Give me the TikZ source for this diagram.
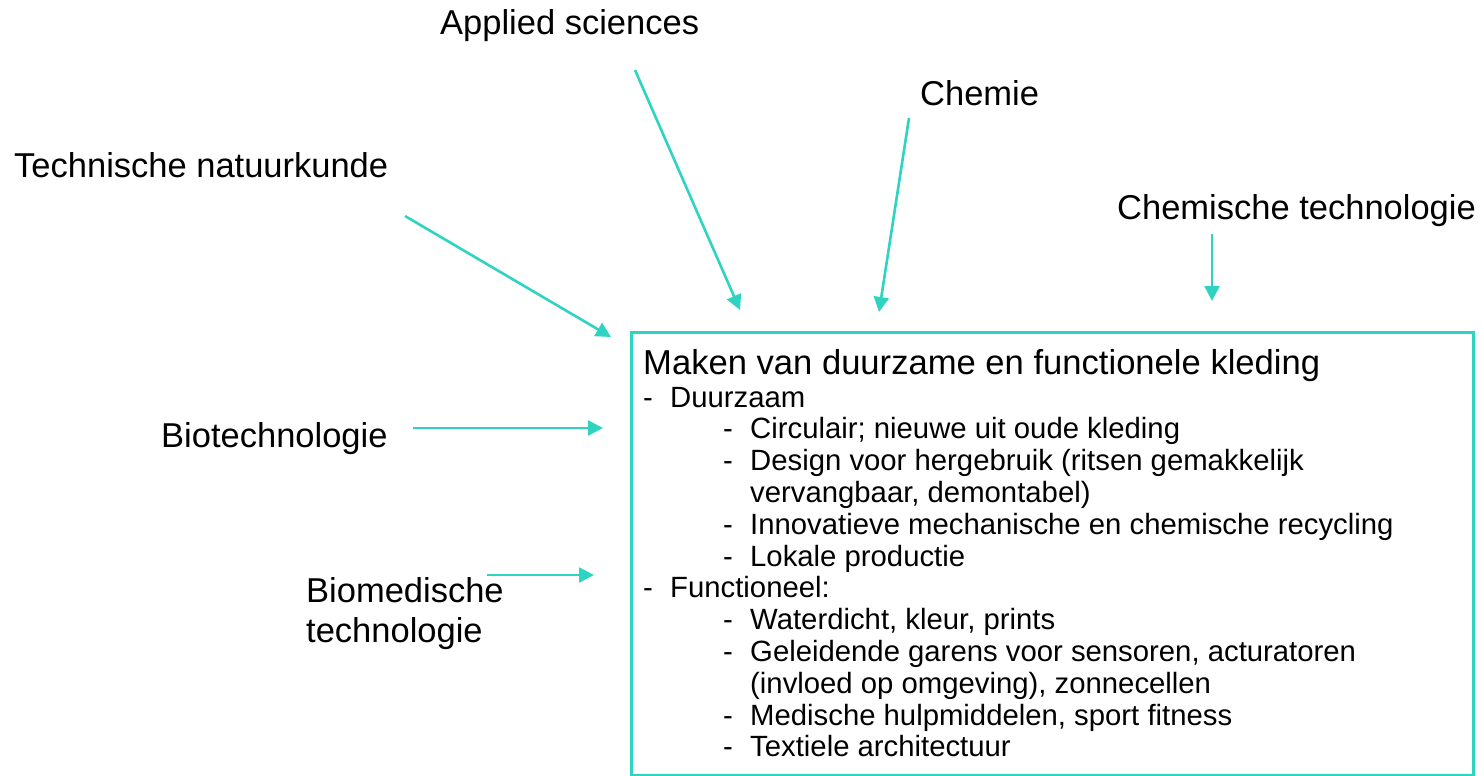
\documentclass[tikz,border=0pt]{standalone}
\usepackage{fontspec}
\setmainfont{Liberation Sans}
\usetikzlibrary{arrows.meta}
\definecolor{turq}{RGB}{46,212,193}
\begin{document}
\begin{tikzpicture}[x=1pt,y=-1pt,
  lbl/.style={anchor=base west,inner sep=0pt,font=\fontsize{34.5}{40}\selectfont,text=black},
  ttl/.style={anchor=base west,inner sep=0pt,font=\fontsize{34.6}{40}\selectfont,text=black},
  bodytxt/.style={anchor=base west,inner sep=0pt,font=\fontsize{29.3}{32}\selectfont,text=black},
  conn/.style={draw=turq,line width=2.6pt,-{Triangle[length=15pt,width=15pt]}},
  frame/.style={draw=turq,line width=3pt}]
\useasboundingbox (0,0) rectangle (1481,776);
% box
\draw[frame] (631,332) rectangle (1473,775);
% labels
\node[lbl] (applied) at (440,35) {Applied sciences};
\node[lbl] (chemie) at (920,106) {Chemie};
\node[lbl] (technat) at (14,177) {Technische natuurkunde};
\node[lbl] (chemtech) at (1117,219) {Chemische technologie};
\node[lbl] (biotech) at (161,447) {Biotechnologie};
\node[lbl] (biomed1) at (306,602) {Biomedische};
\node[lbl] (biomed2) at (306,642) {technologie};
% box text
\node[ttl] (title) at (643,374) {Maken van duurzame en functionele kleding};
\foreach \i/\lev/\d/\t in {0/1/1/Duurzaam,
  1/2/1/{Circulair; nieuwe uit oude kleding},
  2/2/1/{Design voor hergebruik (ritsen gemakkelijk},
  3/2/0/{vervangbaar, demontabel)},
  4/2/1/{Innovatieve mechanische en chemische recycling},
  5/2/1/{Lokale productie},
  6/1/1/{Functioneel:},
  7/2/1/{Waterdicht, kleur, prints},
  8/2/1/{Geleidende garens voor sensoren, acturatoren},
  9/2/0/{(invloed op omgeving), zonnecellen},
  10/2/1/{Medische hulpmiddelen, sport fitness},
  11/2/1/{Textiele architectuur}}{
  \pgfmathsetmacro{\yy}{407+31.8*\i}
  \ifnum\lev=1
    \node[bodytxt] (dash\i) at (643,\yy) {-};
    \node[bodytxt] (item\i) at (670,\yy) {\t};
  \else
    \ifnum\d=1 \node[bodytxt] (dash\i) at (723,\yy) {-}; \fi
    \node[bodytxt] (item\i) at (750,\yy) {\t};
  \fi
}
% connector endpoints
\coordinate (aS) at (635,70);   \coordinate (aE) at (740,310);
\coordinate (cS) at (909,118);  \coordinate (cE) at (879,312);
\coordinate (ctS) at (1212,234); \coordinate (ctE) at (1212,301);
\coordinate (tS) at (405,216);  \coordinate (tE) at (611,337);
\coordinate (bS) at (413,428);  \coordinate (bE) at (603,428);
\coordinate (mS) at (487,575);  \coordinate (mE) at (594,575);
\draw[conn] (aS) -- (aE);
\draw[conn] (cS) -- (cE);
\draw[conn] (ctS) -- (ctE);
\draw[conn] (tS) -- (tE);
\draw[conn] (bS) -- (bE);
\draw[conn] (mS) -- (mE);
\end{tikzpicture}
\end{document}
